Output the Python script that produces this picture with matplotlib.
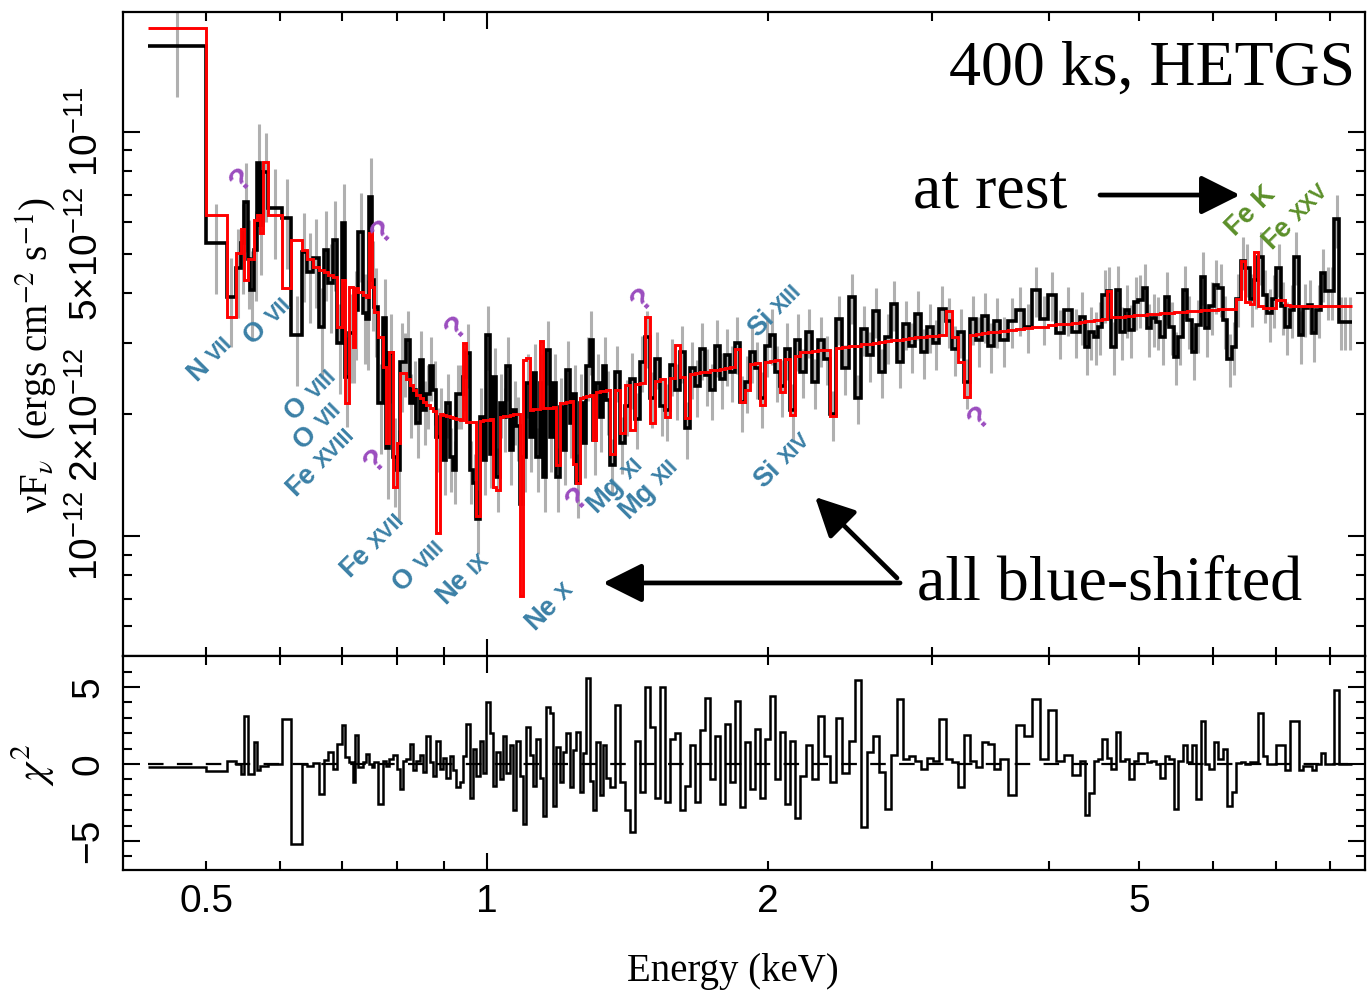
import numpy as np
import matplotlib
matplotlib.use('Agg')
import matplotlib.pyplot as plt
from matplotlib.ticker import FixedLocator, FuncFormatter

plt.rcParams['font.family'] = ['Liberation Sans', 'DejaVu Sans']
plt.rcParams['mathtext.fontset'] = 'custom'
plt.rcParams['mathtext.rm'] = 'Liberation Sans'
plt.rcParams['mathtext.it'] = 'Liberation Sans:italic'
plt.rcParams['mathtext.bf'] = 'Liberation Sans:bold'

# spectrum, HETGS 400 ks
# flux in units of 1e-12 erg/cm^2/s, residuals in chi
#==========================================================

# low energy bins, edges typed (keV)
edges_lo = [0.433, 0.500, 0.526, 0.538, 0.545, 0.549, 0.554, 0.557, 0.563, 0.567,
            0.571, 0.575, 0.583, 0.603, 0.617, 0.633, 0.641, 0.651, 0.661, 0.669,
            0.676, 0.684, 0.691, 0.699, 0.705, 0.712, 0.719, 0.722, 0.727, 0.737,
            0.742, 0.748, 0.753, 0.757, 0.764, 0.774, 0.780, 0.785, 0.793, 0.801,
            0.807, 0.813]
flux_lo = [16.3, 5.31, 3.91, 4.61, 5.31, 6.71, 4.85, 4.06, 5.10, 8.38,
           5.89, 7.96, 6.48, 6.12, 3.14, 5.05, 4.50, 4.88, 3.29, 5.10,
           4.23, 5.40, 3.00, 5.95, 2.48, 3.18, 3.18, 3.63, 5.66, 3.56,
           3.44, 6.90, 4.30, 3.69, 2.13, 3.46, 1.65, 2.84, 1.57, 1.46,
           2.70]
model_lo = [18.1, 6.23, 3.48, 5.02, 5.75, 4.30, 4.85, 4.85, 6.06, 6.23,
            5.62, 8.43, 6.23, 4.11, 5.40, 5.10, 4.85, 4.63, 4.55, 4.50,
            4.43, 4.38, 3.29, 4.30, 2.13, 4.13, 2.94, 4.11, 4.02, 3.95,
            3.91, 5.62, 4.13, 3.58, 3.11, 2.62, 1.70, 2.85, 1.32, 1.70,
            2.53]
resid_lo = [-0.22, -0.43, 0.22, 0.0, -0.65, 3.1, -0.65, -0.65, 1.4, -0.4,
            -0.1, -0.1, 0.0, 2.9, -5.2, 0.0, -0.1, 0.05, -1.95, 0.26,
            0.76, -0.3, 1.3, 2.5, 0.43, 0.1, -1.2, 1.85, -0.2, 0.1,
            0.65, 0.0, -0.2, 0.1, -2.6, 0.2, -0.1, 0.3, 0.55, -0.3,
            -1.6]

# regular grating bins: (E start, E stop, number of bins)
segments = [(0.813, 1.354, 62), (1.354, 2.165, 38), (2.165, 3.547, 33),
            (3.547, 4.322, 10), (4.322, 8.456, 61)]

# 0.81 - 1.35 keV
flux_k = [2.70, 3.06, 2.13, 2.30, 1.90, 2.73, 2.05, 2.25, 2.63, 2.30,
          1.76, 1.97, 1.54, 2.13, 1.57, 1.46, 2.25, 2.25, 2.48, 2.83,
          1.46, 1.35, 1.10, 1.97, 1.54, 3.14, 1.60, 2.48, 1.40, 2.13,
          1.97, 2.63, 1.63, 2.05, 1.87, 1.20, 1.57, 2.39, 1.76, 2.53,
          1.57, 2.39, 1.40, 2.89, 1.76, 2.39, 1.40, 2.09, 1.63, 2.58,
          1.90, 2.25, 1.35, 2.13, 1.70, 2.63, 3.06, 1.73, 2.39, 1.97,
          2.63, 2.17]
model_k = [2.53, 2.45, 2.37, 2.30, 2.24, 2.19, 2.15, 2.11, 2.07, 2.04,
           1.02, 2.00, 1.99, 1.98, 1.97, 1.96, 1.95, 1.94, 3.00, 1.92,
           1.92, 1.92, 1.12, 1.93, 1.94, 1.94, 1.95, 1.32, 1.30, 1.97,
           1.98, 1.98, 1.99, 2.00, 2.00, 0.71, 2.73, 2.76, 2.05, 2.06,
           2.06, 3.04, 2.07, 2.08, 2.08, 2.09, 1.50, 2.13, 2.14, 2.15,
           2.16, 1.51, 1.35, 2.20, 2.21, 2.22, 2.23, 1.73, 2.27, 2.28,
           2.29, 2.30]
resid_k = [0.2, 0.3, 1.3, -0.4, 0.2, 0.6, -0.5, 1.8, 0.1, -0.8,
           1.5, -0.3, 0.4, -0.9, 0.5, -0.4, -1.5, -1.2, 0.5, 2.6,
           -2.2, 1.0, -0.8, 1.5, -0.6, 4.0, 2.0, -1.4, 0.8, -1.0,
           1.8, -0.6, 1.2, -3.0, 1.5, -0.8, -3.9, 2.4, 0.6, -1.4,
           1.6, -0.9, -3.4, 3.7, 3.3, -2.7, 1.1, -1.2, 0.8, 2.0,
           -1.5, 0.9, 2.1, -1.8, 0.7, 5.6, -1.1, -3.0, 1.4, -2.0,
           1.2, -0.9]

# 1.35 - 2.17 keV
flux_j = [1.50, 2.55, 1.70, 2.10, 2.45, 1.95, 2.70, 3.10, 2.20, 2.75,
          2.10, 2.05, 2.65, 2.30, 2.85, 1.85, 2.60, 2.35, 2.90, 2.50,
          2.30, 2.95, 2.45, 2.80, 2.55, 3.00, 2.15, 2.40, 2.85, 2.60,
          2.20, 2.95, 3.15, 2.55, 2.35, 2.90, 2.05, 3.05]
model_j = [1.60, 2.30, 1.80, 2.36, 1.83, 2.38, 2.39, 3.48, 1.90, 2.42,
           2.44, 1.97, 2.46, 2.97, 2.48, 1.96, 2.52, 2.53, 2.54, 2.55,
           2.57, 2.58, 2.59, 2.60, 2.62, 2.90, 2.15, 2.30, 2.67, 2.68,
           2.11, 2.70, 2.71, 2.72, 2.27, 2.75, 1.99, 2.79]
resid_j = [-1.5, 3.8, -1.2, -3.0, -4.4, 1.5, -1.8, 5.0, 2.4, -2.2,
           5.0, -2.5, 1.6, 2.0, -3.0, -1.4, 1.2, -2.5, 2.2, 4.3,
           -1.0, 1.8, -2.6, 2.6, -1.2, 4.1, -2.8, 1.4, -1.6, 2.3,
           -2.2, 1.6, 4.4, -1.0, 2.1, -2.6, 1.5, -3.5]

# 2.17 - 3.55 keV
flux_b = [2.55, 3.20, 2.40, 3.05, 2.75, 2.00, 3.45, 2.60, 3.90, 2.20,
          3.25, 2.80, 3.60, 2.55, 3.10, 3.75, 2.70, 3.35, 2.95, 3.55,
          2.85, 3.30, 3.00, 3.65, 3.40, 2.90, 3.20, 2.40, 3.45, 3.05,
          3.50, 2.95, 3.40]
model_b = [2.85, 2.86, 2.87, 2.88, 2.89, 1.98, 2.92, 2.93, 2.95, 2.96,
           2.98, 2.99, 3.00, 3.02, 3.03, 3.05, 3.06, 3.07, 3.09, 3.10,
           3.11, 3.12, 3.13, 3.14, 3.60, 3.10, 2.70, 2.21, 3.15, 3.17,
           3.18, 3.19, 3.20]
resid_b = [-0.8, 1.2, -1.0, 3.1, 0.5, -1.2, 3.0, -0.6, 1.5, 5.45,
           -4.1, 0.8, 1.8, -0.5, -2.9, 0.6, 4.2, 0.3, 0.5, 0.2,
           -0.3, 0.4, 0.2, 2.9, 0.3, 0.1, -1.5, 1.9, 0.2, -0.2,
           1.45, 1.3, -0.3]

# 3.55 - 4.32 keV
flux_c1 = [3.05, 3.40, 3.63, 3.30, 4.06, 3.45, 3.95, 3.18, 3.63, 3.20]
model_c1 = [3.22, 3.24, 3.25, 3.27, 3.29, 3.30, 3.32, 3.34, 3.35, 3.37]
resid_c1 = [0.3, -2.0, 2.5, 1.8, 4.2, 0.3, 3.5, 0.2, 0.6, -0.7]

# 4.32 - 8.46 keV (Fe K band)
flux_c2 = [3.49, 2.94, 3.20, 3.11, 3.30, 3.95, 4.03, 2.94, 4.06, 3.20,
           3.63, 3.24, 3.80, 3.84, 4.10, 3.27, 3.46, 3.39, 3.11, 3.91,
           3.30, 2.78, 3.11, 4.06, 3.42, 2.86, 3.33, 4.38, 3.27, 3.70,
           4.18, 4.10, 3.42, 2.75, 2.94, 3.87, 4.78, 4.60, 3.87, 4.30,
           4.91, 3.95, 3.56, 3.85, 4.60, 3.70, 3.30, 3.63, 4.91, 3.14,
           3.66, 3.73, 3.18, 3.63, 4.47, 4.03, 4.03, 6.08, 3.39, 3.39,
           3.39]
model_c2 = [3.39, 3.40, 3.41, 3.42, 3.43, 3.45, 4.04, 3.48, 3.49, 3.49,
            3.50, 3.51, 3.52, 3.52, 3.53, 3.54, 3.55, 3.55, 3.56, 3.57,
            3.57, 3.58, 3.59, 3.59, 3.60, 3.61, 3.61, 3.62, 3.62, 3.63,
            3.63, 3.64, 3.64, 3.64, 3.65, 3.87, 4.78, 3.80, 3.75, 5.05,
            3.71, 3.66, 3.66, 3.66, 3.84, 3.84, 3.73, 3.70, 3.70, 3.70,
            3.70, 3.70, 3.71, 3.71, 3.71, 3.71, 3.71, 3.71, 3.71, 3.71,
            3.71]
resid_c2 = [0.2, -3.3, -1.9, 0.2, 0.3, 1.6, 0.4, -0.3, 2.1, 0.2,
            0.3, -1.0, 0.2, 0.7, 0.7, 0.1, 0.2, 0.0, -0.9, 0.5,
            0.3, -2.9, 0.2, 1.2, 0.1, 1.2, -2.3, 2.8, 0.0, -0.3,
            1.4, 0.3, 1.0, -2.7, -1.8, 0.05, 0.1, 0.0, 0.1, 0.1,
            3.3, 0.5, 0.0, 0.0, 1.2, 1.2, -0.4, 2.8, 2.8, -0.4,
            -0.1, -0.1, -0.4, 0.0, 0.7, 0.0, 0.0, 4.8, 0.0, 0.0,
            0.0]

# fractional 1 sigma error of each block of bins
err_frac = [0.25, 0.18, 0.16, 0.14, 0.14, 0.15]

# line ids: (axes x, axes y, element, ion)
ions = [(0.0664, 0.4620, 'N', 'VII'), (0.1135, 0.5217, 'O', 'VII'),
        (0.1465, 0.4037, 'O', 'VIII'), (0.1537, 0.3587, 'O', 'VII'),
        (0.1529, 0.2966, 'Fe', 'XVIII'), (0.1964, 0.1708, 'Fe', 'XVII'),
        (0.2334, 0.1382, 'O', 'VIII'), (0.2756, 0.1326, 'Ne', 'IX'),
        (0.3469, 0.0916, 'Ne', 'X'), (0.4000, 0.2795, 'Mg', 'XI'),
        (0.4250, 0.2702, 'Mg', 'XII'), (0.5212, 0.5366, 'Si', 'XIII'),
        (0.5264, 0.3028, 'Si', 'XIV')]
unknown = [(0.0958, 0.7391), (0.2093, 0.6584), (0.2688, 0.5093), (0.4185, 0.5528),
           (0.2036, 0.3028), (0.3662, 0.2438), (0.6897, 0.3696)]

blue = '#3b80a6'
purple = '#9b4dbf'
green = '#5b8f29'

#building the bin grid
#==========================================================
edges = np.array(edges_lo)
for e0, e1, n in segments:
    edges = np.concatenate([edges, np.geomspace(e0, e1, n + 1)[1:]])
centers = np.sqrt(edges[:-1] * edges[1:])

flux = np.concatenate([flux_lo, flux_k, flux_j, flux_b, flux_c1, flux_c2]) * 1e-12
model = np.concatenate([model_lo, model_k, model_j, model_b, model_c1, model_c2]) * 1e-12
resid = np.concatenate([resid_lo, resid_k, resid_j, resid_b, resid_c1, resid_c2])
counts = [len(flux_lo), len(flux_k), len(flux_j), len(flux_b), len(flux_c1), len(flux_c2)]
rel = np.repeat(err_frac, counts)

#plotting
#==========================================================
fig = plt.figure(figsize=(13.67, 9.93), dpi=100)
ax1 = fig.add_axes([0.0900, 0.3394, 0.9089, 0.6485])
ax2 = fig.add_axes([0.0900, 0.1239, 0.9089, 0.2155])

ax1.vlines(centers, flux * (1 - rel), flux * (1 + rel), color='#b0b0b0', lw=2.2, zorder=1)
ax1.stairs(flux, edges, baseline=None, color='black', lw=2.6, zorder=2)
ax1.stairs(model, edges, baseline=None, color='red', lw=2.1, zorder=3)

ax2.hlines(0, edges[0], edges[-1], color='black', lw=1.6, ls=(0, (7, 6)), zorder=1)
ax2.stairs(resid, edges, baseline=None, color='black', lw=1.8, zorder=2)

xlab = {0.5: '0.5', 1.0: '1', 2.0: '2', 5.0: '5'}
ylab = {1e-12: r'$10^{-12}$', 2e-12: r'$2{\times}10^{-12}$',
        5e-12: r'$5{\times}10^{-12}$', 1e-11: r'$10^{-11}$'}


def fmt_x(v, pos):
    return xlab.get(round(v, 3), '')


def fmt_y(v, pos):
    for k, s in ylab.items():
        if abs(v / k - 1) < 1e-3:
            return s
    return ''


for ax in (ax1, ax2):
    ax.set_xscale('log')
    ax.set_xlim(0.4073, 8.74)
    ax.xaxis.set_major_locator(FixedLocator([1.0]))
    ax.xaxis.set_minor_locator(FixedLocator([0.5, 0.6, 0.7, 0.8, 0.9, 2, 3, 4, 5, 6, 7, 8]))
    ax.xaxis.set_major_formatter(FuncFormatter(fmt_x))
    ax.xaxis.set_minor_formatter(FuncFormatter(fmt_x))
    ax.tick_params(which='both', direction='in', top=True, right=True, width=1.5,
                   labelsize=28)
    ax.tick_params(which='major', length=12)
    ax.tick_params(which='minor', length=6.5)
    ax.tick_params(axis='x', which='both', pad=10)
    ax.tick_params(axis='y', which='both', labelrotation=90, pad=12)
    for s in ax.spines.values():
        s.set_linewidth(1.6)

ax1.tick_params(axis='x', which='both', labelbottom=False)

ax1.set_yscale('log')
ax1.set_ylim(5.05e-13, 1.98e-11)
ax1.yaxis.set_major_locator(FixedLocator([1e-12, 1e-11]))
ax1.yaxis.set_minor_locator(FixedLocator([6e-13, 7e-13, 8e-13, 9e-13] +
                                         [m * 1e-12 for m in range(2, 10)]))
ax1.yaxis.set_major_formatter(FuncFormatter(fmt_y))
ax1.yaxis.set_minor_formatter(FuncFormatter(fmt_y))

ax2.set_ylim(-6.88, 7.01)
ax2.yaxis.set_major_locator(FixedLocator([-5, 0, 5]))
ax2.yaxis.set_minor_locator(FixedLocator(range(-6, 7)))
ax2.set_yticklabels(['\u22125', '0', '5'])

for ax in (ax1, ax2):
    for lab in ax.get_yticklabels(which='both'):
        lab.set_va('center')

serif = ['Liberation Serif', 'DejaVu Serif']
ax1.set_ylabel('\u03bdF$_{\\nu}$  (ergs cm$^{-2}$ s$^{-1}$)', fontsize=28,
               fontfamily=serif, math_fontfamily='stix')
ax1.yaxis.set_label_coords(-0.051, 0.467)
ax2.set_ylabel(r'$\chi^2$', fontsize=30, math_fontfamily='stix')
ax2.yaxis.set_label_coords(-0.053, 0.49)
ax2.set_xlabel('Energy (keV)', fontsize=28, fontfamily=serif)
ax2.xaxis.set_label_coords(0.491, -0.39)

# annotations
ax1.text(0.9915, 0.8866, '400 ks, HETGS', transform=ax1.transAxes, ha='right',
         va='baseline', fontsize=46, fontfamily=serif)
ax1.text(0.6358, 0.6957, 'at rest', transform=ax1.transAxes, ha='left',
         va='baseline', fontsize=46, fontfamily=serif)
ax1.text(0.639, 0.0870, 'all blue-shifted', transform=ax1.transAxes, ha='left',
         va='baseline', fontsize=46, fontfamily=serif)

arrow = dict(arrowstyle='-|>,head_length=1.2,head_width=0.6', lw=3.4, color='black',
             mutation_scale=20, shrinkA=0, shrinkB=0)
ax1.annotate('', xy=(0.899, 0.7158), xytext=(0.7863, 0.7158), xycoords='axes fraction',
             arrowprops=arrow)
ax1.annotate('', xy=(0.3863, 0.1134), xytext=(0.6254, 0.1134), xycoords='axes fraction',
             arrowprops=arrow)
ax1.annotate('', xy=(0.557, 0.2469), xytext=(0.6229, 0.1211), xycoords='axes fraction',
             arrowprops=arrow)


def ion_label(ax, fx, fy, elem, num, color):
    d = 0.7071
    gap = 2.8
    common = dict(xycoords='axes fraction', textcoords='offset points', rotation=45,
                  rotation_mode='anchor', va='baseline', color=color, fontweight='bold')
    ax.annotate(elem, (fx, fy), xytext=(5.0 - gap * d, -5.0 - gap * d), ha='right',
                fontsize=19.5, **common)
    ax.annotate(num, (fx, fy), xytext=(5.0 + gap * d, -5.0 + gap * d), ha='left',
                fontsize=15.5, **common)


for fx, fy, el, num in ions:
    ion_label(ax1, fx, fy, el, num, blue)

ax1.text(0.9078, 0.6910, 'Fe K', transform=ax1.transAxes, rotation=45, ha='center',
         va='center', fontsize=19.5, fontweight='bold', color=green)
ion_label(ax1, 0.9384, 0.6801, 'Fe', 'XXV', green)

for fx, fy in unknown:
    ax1.text(fx, fy, '?', transform=ax1.transAxes, rotation=45, ha='center', va='center',
             fontsize=23, fontweight='bold', color=purple)

fig.savefig('out.png', dpi=100)
